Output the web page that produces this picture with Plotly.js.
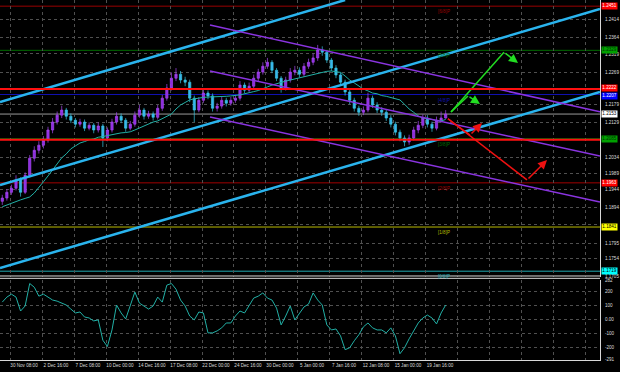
<!DOCTYPE html>
<html><head><meta charset="utf-8">
<script src="https://cdn.plot.ly/plotly-3.0.1.min.js"></script>
<style>html,body{margin:0;padding:0;background:#000;}#chart{width:620px;height:372px;}</style>
</head><body><div id="chart"></div>
<script>
// ---- candles (8h bars, index 0..97) ----
const opens = [1.1912,1.1921,1.1937,1.1948,1.1971,1.1937,1.1984,1.2031,1.2053,1.2067,
1.2081,1.2109,1.2131,1.2150,1.2164,1.2147,1.2136,1.2125,1.2131,1.2114,
1.2122,1.2109,1.2120,1.2087,1.2109,1.2131,1.2147,1.2136,1.2114,1.2125,
1.2150,1.2164,1.2147,1.2153,1.2144,1.2169,1.2197,1.2225,1.2252,1.2263,
1.2247,1.2241,1.2197,1.2164,1.2191,1.2211,1.2203,1.2169,1.2175,1.2191,
1.2183,1.2191,1.2197,1.2233,1.2219,1.2230,1.2252,1.2269,1.2285,1.2296,
1.2274,1.2252,1.2225,1.2247,1.2269,1.2274,1.2263,1.2285,1.2296,1.2308,
1.2330,1.2324,1.2302,1.2280,1.2261,1.2241,1.2214,1.2191,1.2169,1.2158,
1.2164,1.2197,1.2178,1.2164,1.2158,1.2142,1.2125,1.2103,1.2087,1.2076,
1.2087,1.2109,1.2122,1.2142,1.2125,1.2114,1.2136,1.2142];
const closes = [1.1921,1.1937,1.1948,1.1971,1.1937,1.1984,1.2031,1.2053,1.2067,1.2081,
1.2109,1.2131,1.2150,1.2164,1.2147,1.2136,1.2125,1.2131,1.2114,1.2122,
1.2109,1.2120,1.2087,1.2109,1.2131,1.2147,1.2136,1.2114,1.2125,1.2150,
1.2164,1.2147,1.2153,1.2144,1.2169,1.2197,1.2225,1.2252,1.2263,1.2247,
1.2241,1.2197,1.2164,1.2191,1.2211,1.2203,1.2169,1.2175,1.2191,1.2183,
1.2191,1.2197,1.2233,1.2219,1.2230,1.2252,1.2269,1.2285,1.2296,1.2274,
1.2252,1.2225,1.2247,1.2269,1.2274,1.2263,1.2285,1.2296,1.2308,1.2330,
1.2324,1.2302,1.2280,1.2261,1.2241,1.2214,1.2191,1.2169,1.2158,1.2164,
1.2197,1.2178,1.2164,1.2158,1.2142,1.2125,1.2103,1.2087,1.2076,1.2087,
1.2109,1.2122,1.2142,1.2125,1.2114,1.2136,1.2142,1.2153];
const highs = [1.1930,1.1946,1.1958,1.1984,1.1978,1.1992,1.2040,1.2064,1.2078,1.2092,
1.2118,1.2142,1.2160,1.2176,1.2170,1.2155,1.2142,1.2140,1.2138,1.2130,
1.2128,1.2130,1.2126,1.2116,1.2140,1.2158,1.2155,1.2142,1.2134,1.2160,
1.2178,1.2170,1.2162,1.2160,1.2178,1.2206,1.2236,1.2268,1.2280,1.2272,
1.2256,1.2248,1.2204,1.2200,1.2222,1.2218,1.2210,1.2184,1.2200,1.2198,
1.2200,1.2206,1.2244,1.2240,1.2240,1.2262,1.2278,1.2296,1.2308,1.2302,
1.2280,1.2258,1.2256,1.2280,1.2286,1.2282,1.2294,1.2306,1.2320,1.2344,
1.2340,1.2330,1.2308,1.2288,1.2268,1.2248,1.2220,1.2198,1.2176,1.2174,
1.2212,1.2204,1.2186,1.2172,1.2166,1.2150,1.2132,1.2110,1.2094,1.2096,
1.2118,1.2134,1.2152,1.2150,1.2132,1.2146,1.2160,1.2164];
const lows = [1.1902,1.1914,1.1930,1.1942,1.1925,1.1932,1.1978,1.2022,1.2044,1.2058,
1.2074,1.2100,1.2124,1.2142,1.2138,1.2128,1.2116,1.2118,1.2106,1.2108,
1.2100,1.2102,1.2062,1.2078,1.2102,1.2124,1.2128,1.2104,1.2108,1.2118,
1.2143,1.2138,1.2140,1.2135,1.2138,1.2162,1.2190,1.2218,1.2244,1.2238,
1.2230,1.2186,1.2131,1.2158,1.2184,1.2194,1.2160,1.2160,1.2168,1.2174,
1.2176,1.2184,1.2190,1.2210,1.2212,1.2224,1.2244,1.2262,1.2278,1.2266,
1.2244,1.2212,1.2218,1.2240,1.2260,1.2254,1.2256,1.2278,1.2288,1.2300,
1.2314,1.2294,1.2272,1.2252,1.2232,1.2204,1.2180,1.2160,1.2148,1.2150,
1.2158,1.2170,1.2156,1.2148,1.2134,1.2116,1.2094,1.2078,1.2064,1.2068,
1.2080,1.2100,1.2114,1.2116,1.2104,1.2108,1.2130,1.2140];
// moving average
const maValues = [1.1897,1.1902,1.1908,1.1912,1.1916,1.1920,1.1924,1.1935,1.1949,1.1966,
1.1982,1.1999,1.2015,1.2032,1.2043,1.2057,1.2065,1.2073,1.2077,1.2082,
1.2084,1.2089,1.2091,1.2094,1.2097,1.2100,1.2101,1.2102,1.2104,1.2109,
1.2115,1.2120,1.2126,1.2131,1.2134,1.2140,1.2145,1.2153,1.2167,1.2178,
1.2185,1.2192,1.2195,1.2198,1.2199,1.2200,1.2200,1.2200,1.2200,1.2202,
1.2203,1.2204,1.2206,1.2209,1.2213,1.2215,1.2218,1.2222,1.2228,1.2233,
1.2237,1.2242,1.2244,1.2247,1.2250,1.2253,1.2255,1.2260,1.2262,1.2265,
1.2268,1.2271,1.2272,1.2271,1.2268,1.2258,1.2247,1.2239,1.2231,1.2222,
1.2217,1.2211,1.2209,1.2204,1.2202,1.2199,1.2196,1.2192,1.2180,1.2167,
1.2158,1.2148,1.2142,1.2141,1.2138,1.2135,1.2134,1.2138];
// CCI oscillator
const cciValues = [124,160,181,160,60,96,258,231,167,181,
160,139,131,117,103,74,46,53,17,10,
-11,-4,-150,-195,-76,103,46,3,96,196,
117,96,74,96,160,124,246,258,217,139,
96,24,-4,53,46,-97,-97,-83,-61,-26,
-26,24,60,46,103,153,167,190,153,139,
81,-40,24,96,-4,46,89,110,190,139,
103,-40,-76,-69,-119,-218,-204,-154,-111,-54,
-26,-61,-76,-76,-97,-61,-119,-247,-204,-140,
-83,-26,10,31,10,-33,46,103];

// axis ticks
const xTickVals = [1.69,8.69,15.69,22.69,29.69,36.69,43.69,50.69,57.69,64.69,71.69,78.69,85.69,92.69,99.69,106.69,113.69,120.69,127.69];
const xTickText = ["30 Nov 08:00","2 Dec 16:00","7 Dec 08:00","10 Dec 00:00","14 Dec 16:00","17 Dec 08:00","22 Dec 00:00","24 Dec 16:00","30 Dec 00:00","5 Jan 00:00","7 Jan 16:00","12 Jan 08:00","15 Jan 00:00","19 Jan 16:00","","","","",""];
const yTickVals = [1.2414,1.2364,1.2319,1.2269,1.2224,1.2179,1.2129,1.2084,1.2034,1.1989,1.1944,1.1894,1.1849,1.1795,1.1754,1.1705];
// labels hidden behind the coloured price boxes are left blank
const yTickText = ["1.2414","1.2364","1.2319","1.2269","","1.2179","1.2129","","1.2034","1.1989","1.1944","1.1894","","1.1795","1.1754","1.1705"];
const y2TickVals = [282,200,100,0,-100,-200,-291];
const y2TickText = ["282","200","100","0.00","-100","-200","-291"];

// horizontal levels (Murray lines)
const murrayLevels = [1.2451,1.2329,1.2207,1.2085,1.1963,1.1841,1.1719];
const murrayNames  = ["[6/8]P","[5/8]P","[4/8]P","[3/8]P","[2/8]P","[1/8]P","[0/8]P"];
const murrayColors = ["#9a0000","#006a00","#1010b0","#006a00","#a00000","#b8b800","#20a8b0"];
// support / resistance lines
const srLevels = [1.2222,1.2082];
const bidPrice = 1.2153;
// right-hand price boxes
const boxPrices = [1.2451,1.2329,1.2222,1.2207,1.2153,1.2085,1.1963,1.1841,1.1719];
const boxColors = ["#ff0000","#00a000","#ff0000","#0000ff","#ffffff","#00a000","#ff0000","#ffff00","#00ffff"];
const boxText   = ["#ffffff","#003000","#ffffff","#ffffff","#000000","#003000","#ffffff","#000000","#000000"];
const boxShift  = [0,0,1.5,-1.5,0,0,0,0,0];

// trend channels (bar index, price)
const cyanUpperX = [-0.5,75.0],   cyanUpperY = [1.2186,1.2468];
const cyanMidX   = [-0.5,130.76], cyanMidY   = [1.1957,1.2443];
const cyanLowX   = [-0.5,130.76], cyanLowY   = [1.1728,1.2214];
const purpTopX = [45.44,130.76], purpTopY = [1.2399,1.2159];
const purpMidX = [45.44,130.76], purpMidY = [1.2272,1.2037];
const purpLowX = [45.44,130.76], purpLowY = [1.2145,1.1910];
// forecast arrows
const greenAX = [98.17,101.88,104.5],  greenAY = [1.2159,1.2203,1.2181];
const greenBX = [98.17,109.76,112.82], greenBY = [1.2159,1.2324,1.2294];
const redCX   = [97.5,102.32,104.94],  redCY   = [1.2140,1.2095,1.2128];
const redDX   = [97.5,114.79,119.17],  redDY   = [1.2140,1.1971,1.2026];

const idx = closes.map((_, i) => i);
const FONT = "Liberation Sans, Arial, sans-serif";
const FS = 4.6;

const traces = [];
traces.push({type:'candlestick', x:idx, open:opens, high:highs, low:lows, close:closes,
  xaxis:'x', yaxis:'y', whiskerwidth:0,
  increasing:{line:{color:'#a848f0',width:0.7}, fillcolor:'#8c2ce0'},
  decreasing:{line:{color:'#38c4e0',width:0.7}, fillcolor:'#3ab4f0'},
  hoverinfo:'skip'});
traces.push({type:'scatter', mode:'lines', x:idx, y:maValues, xaxis:'x', yaxis:'y',
  line:{color:'#22b0a6', width:1}, hoverinfo:'skip'});
function lineTrace(x, y, color, width){
  return {type:'scatter', mode:'lines', x:x, y:y, xaxis:'x', yaxis:'y',
    line:{color:color, width:width}, hoverinfo:'skip', cliponaxis:true};
}
traces.push(lineTrace(cyanUpperX, cyanUpperY, '#2ab4ee', 2.5));
traces.push(lineTrace(cyanMidX, cyanMidY, '#2ab4ee', 2.5));
traces.push(lineTrace(cyanLowX, cyanLowY, '#2ab4ee', 2.5));
traces.push(lineTrace(purpTopX, purpTopY, '#8a34e0', 1.5));
traces.push(lineTrace(purpMidX, purpMidY, '#8a34e0', 1.5));
traces.push(lineTrace(purpLowX, purpLowY, '#8a34e0', 1.5));
const arrows = [[greenAX,greenAY,'#22dd22'],[greenBX,greenBY,'#22dd22'],[redCX,redCY,'#ee1111'],[redDX,redDY,'#ee1111']];
arrows.forEach(a => traces.push(lineTrace(a[0].slice(0,2), a[1].slice(0,2), a[2], 1.5)));
traces.push({type:'scatter', mode:'lines', x:idx, y:cciValues, xaxis:'x', yaxis:'y2',
  line:{color:'#22b0a6', width:1}, hoverinfo:'skip'});

const shapes = [];
murrayLevels.forEach((lv, i) => shapes.push({type:'line', xref:'paper', x0:0, x1:1, yref:'y', y0:lv, y1:lv,
  line:{color:murrayColors[i], width:1}, layer:'below'}));
srLevels.forEach(lv => shapes.push({type:'line', xref:'paper', x0:0, x1:1, yref:'y', y0:lv, y1:lv,
  line:{color:'#ff1010', width:2}, layer:'above'}));
shapes.push({type:'line', xref:'paper', x0:0, x1:1, yref:'y', y0:bidPrice, y1:bidPrice,
  line:{color:'#9a9a9a', width:1}, layer:'below'});
// panel separators
shapes.push({type:'line', xref:'paper', x0:0, x1:1, yref:'paper', y0:0.2355, y1:0.2355, line:{color:'#d8d8d8', width:1}});
shapes.push({type:'line', xref:'paper', x0:0, x1:1, yref:'paper', y0:0.2290, y1:0.2290, line:{color:'#d8d8d8', width:1}});

const annotations = [];
boxPrices.forEach((p, i) => annotations.push({xref:'paper', x:1, xanchor:'left', xshift:1, yref:'y', y:p,
  yshift:boxShift[i], text:p.toFixed(4), showarrow:false, bgcolor:boxColors[i], borderpad:0.3,
  font:{family:FONT, size:FS, color:boxText[i]}}));
murrayLevels.forEach((lv, i) => annotations.push({xref:'x', x:94.9, xanchor:'left', yref:'y', y:lv, yanchor:'top', yshift:-1,
  text:murrayNames[i], showarrow:false, font:{family:FONT, size:FS, color:murrayColors[i]}}));
arrows.forEach(a => annotations.push({xref:'x', yref:'y', x:a[0][2], y:a[1][2], axref:'x', ayref:'y', ax:a[0][1], ay:a[1][1],
  text:'', showarrow:true, arrowhead:2, arrowsize:1.2, arrowwidth:1.5, arrowcolor:a[2], standoff:0}));

const tickFont = {family:FONT, size:FS, color:'#dcdcdc'};
const layout = {
  width:620, height:372, margin:{l:0, r:20, t:0, b:11},
  paper_bgcolor:'#000', plot_bgcolor:'#000', showlegend:false, hovermode:false,
  xaxis:{range:[-0.5,130.76], anchor:'y2', tickmode:'array', tickvals:xTickVals, ticktext:xTickText,
    ticklabelshift:14, ticks:'', showgrid:true, gridcolor:'#505050', griddash:'dot', gridwidth:1,
    zeroline:false, showline:true, linecolor:'#d8d8d8', linewidth:1, tickfont:tickFont,
    rangeslider:{visible:false}, fixedrange:true},
  yaxis:{domain:[0.2327,1], range:[1.1703,1.2468], side:'right', anchor:'x', tickmode:'array',
    tickvals:yTickVals, ticktext:yTickText, ticks:'', ticklabelstandoff:3,
    showgrid:true, gridcolor:'#505050', griddash:'dot', zeroline:false, showline:true,
    linecolor:'#d8d8d8', tickfont:tickFont, fixedrange:true},
  yaxis2:{domain:[0.0028,0.2244], range:[-292,283], side:'right', anchor:'x', tickmode:'array',
    tickvals:y2TickVals, ticktext:y2TickText, ticks:'', ticklabelstandoff:3,
    showgrid:true, gridcolor:'#505050', griddash:'dot', zeroline:false, showline:true,
    linecolor:'#d8d8d8', tickfont:tickFont, fixedrange:true},
  shapes:shapes, annotations:annotations
};
Plotly.newPlot('chart', traces, layout, {staticPlot:true, displayModeBar:false});
</script></body></html>
